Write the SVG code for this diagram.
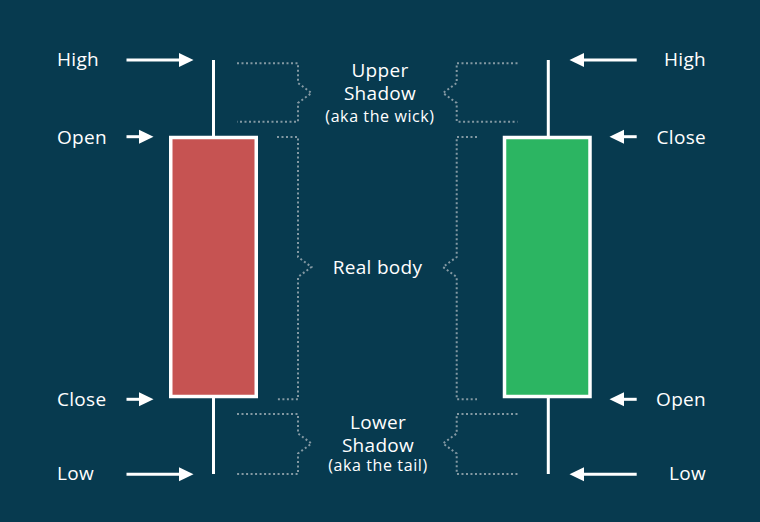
<svg xmlns="http://www.w3.org/2000/svg" width="760" height="522" viewBox="0 0 760 522">
<style>
.lbl{font-family:"Open Sans",Lato,sans-serif;font-size:19px;letter-spacing:0.3px;fill:#ffffff}
.mid{font-family:"Open Sans",Lato,sans-serif;font-size:19px;letter-spacing:0.3px;fill:#ffffff;text-anchor:middle}
.sm{font-family:"Open Sans",Lato,sans-serif;font-size:16px;letter-spacing:0.6px;fill:#ffffff;text-anchor:middle}
.wick{stroke:#ffffff;stroke-width:3;fill:none}
.arr{stroke:#ffffff;stroke-width:3;fill:none}
.dot{stroke:#8499a3;stroke-width:2;stroke-dasharray:2 2.5;fill:none}
.tip{fill:#ffffff}
</style>
<rect width="760" height="522" fill="#073a4f"/>
<g id="bearish-candle">
<line class="wick" x1="213.5" y1="60" x2="213.5" y2="474"/>
<rect x="170.75" y="137.5" width="85.5" height="259" fill="#c65352" stroke="#ffffff" stroke-width="3.5"/>
</g>
<g id="bullish-candle">
<line class="wick" x1="548.3" y1="60" x2="548.3" y2="474"/>
<rect x="504.5" y="137.5" width="85.5" height="259" fill="#2cb562" stroke="#ffffff" stroke-width="3.5"/>
</g>
<g id="left-labels">
<text class="lbl" x="57" y="66">High</text>
<text class="lbl" x="57" y="143.5">Open</text>
<text class="lbl" x="57" y="406">Close</text>
<text class="lbl" x="57" y="479.5">Low</text>
</g>
<g id="right-labels">
<text class="lbl" x="706" y="66" text-anchor="end">High</text>
<text class="lbl" x="706" y="143.5" text-anchor="end">Close</text>
<text class="lbl" x="706" y="406" text-anchor="end">Open</text>
<text class="lbl" x="706" y="479.5" text-anchor="end">Low</text>
</g>
<g id="center-labels">
<text class="mid" x="380" y="77">Upper</text>
<text class="mid" x="380" y="100">Shadow</text>
<text class="sm" x="380" y="122">(aka the wick)</text>
<text class="mid" x="377.5" y="273.5">Real body</text>
<text class="mid" x="378" y="428.5">Lower</text>
<text class="mid" x="378" y="452">Shadow</text>
<text class="sm" x="378" y="471">(aka the tail)</text>
</g>
<g id="connectors">
<line class="arr" x1="126.5" y1="60" x2="181" y2="60"/>
<polygon class="tip" points="179,53 193.5,60 179,67"/>
<line class="arr" x1="126.5" y1="136.7" x2="141" y2="136.7"/>
<polygon class="tip" points="139,129.7 153.5,136.7 139,143.7"/>
<line class="arr" x1="126.5" y1="399.3" x2="141" y2="399.3"/>
<polygon class="tip" points="139,392.3 153.5,399.3 139,406.3"/>
<line class="arr" x1="126.5" y1="474.3" x2="181" y2="474.3"/>
<polygon class="tip" points="179,467.3 193.5,474.3 179,481.3"/>
<line class="arr" x1="636.7" y1="60" x2="582" y2="60"/>
<polygon class="tip" points="584,53 569.5,60 584,67"/>
<line class="arr" x1="636.7" y1="136.7" x2="622" y2="136.7"/>
<polygon class="tip" points="624,129.7 609.5,136.7 624,143.7"/>
<line class="arr" x1="636.7" y1="399.3" x2="622" y2="399.3"/>
<polygon class="tip" points="624,392.3 609.5,399.3 624,406.3"/>
<line class="arr" x1="636.7" y1="474.3" x2="582" y2="474.3"/>
<polygon class="tip" points="584,467.3 569.5,474.3 584,481.3"/>
<path class="dot" d="M237 63.3 H298 V83 L311.5 93 L298 103 V121.7 H237"/>
<path class="dot" d="M277 137 H298 V257 L311.5 267 L298 277 V399.3 H277"/>
<path class="dot" d="M237 414 H298 V433.5 L311.5 443.5 L298 453.5 V474 H237"/>
<path class="dot" d="M517.5 63.3 H456.7 V83 L443 93 L456.7 103 V121.7 H517.5"/>
<path class="dot" d="M477 137 H456.7 V257 L443 267 L456.7 277 V399.3 H477"/>
<path class="dot" d="M517.5 414 H456.7 V433.5 L443 443.5 L456.7 453.5 V474 H517.5"/>
</g>
</svg>
